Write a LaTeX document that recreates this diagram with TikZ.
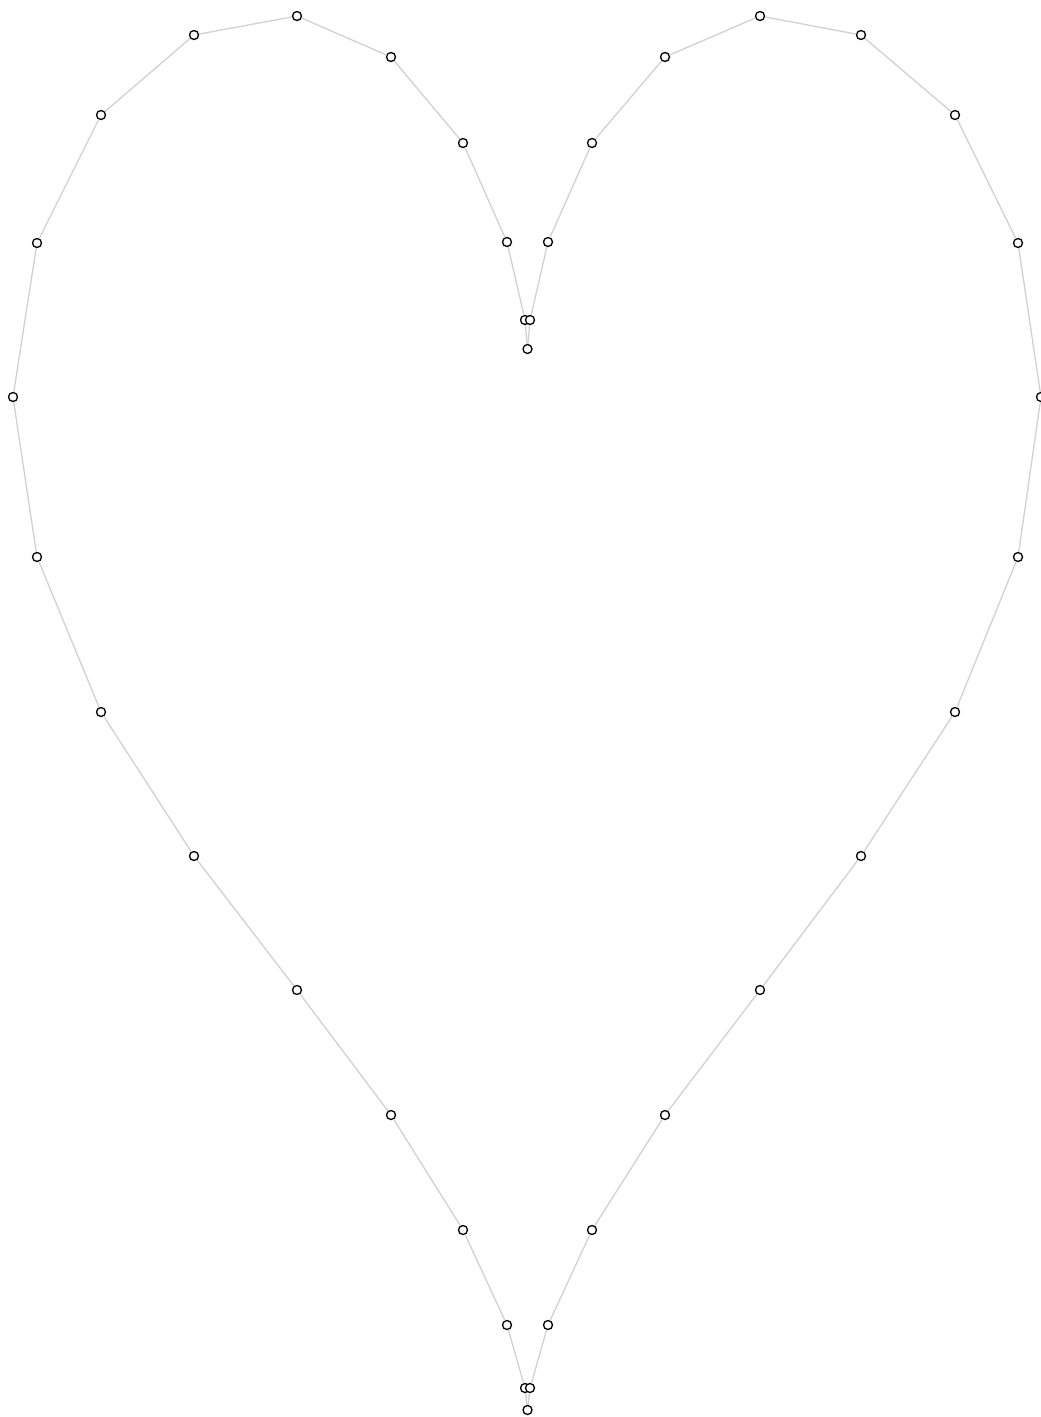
\documentclass[tikz,border=0pt]{standalone}
\begin{document}
\begin{tikzpicture}[x=1pt,y=-1pt,
  vtx/.style={circle,draw=black,fill=white,line width=1.3pt,inner sep=0pt,minimum size=9pt},
  lnk/.style={draw=black!18,line width=1.3pt}]
\useasboundingbox (0,0) rectangle (1041,1417);
\foreach \i/\x/\y in {0/525/320,1/507/242,2/463/143,3/391/57,4/297/16,5/194/35,6/101/115,7/37/243,8/13/397,9/37/557,10/101/712,11/194/856,12/297/990,13/391/1115,14/463/1230,15/507/1325,16/525/1388}
  \node[vtx] (L\i) at (\x,\y) {};
\foreach \i/\x/\y in {0/530/320,1/548/242,2/592/143,3/665/57,4/760/16,5/861/35,6/955/115,7/1018/243,8/1041/397,9/1018/557,10/955/712,11/861/856,12/760/990,13/665/1115,14/592/1230,15/548/1325,16/530/1388}
  \node[vtx] (R\i) at (\x,\y) {};
\node[vtx] (T) at (527.5,349) {};
\node[vtx] (B) at (527.5,1410) {};
\foreach \i [evaluate=\i as \j using int(\i+1)] in {0,...,15} {
  \draw[lnk] (L\i) -- (L\j);
  \draw[lnk] (R\i) -- (R\j);
}
\draw[lnk] (T) -- (L0);
\draw[lnk] (T) -- (R0);
\draw[lnk] (B) -- (L16);
\draw[lnk] (B) -- (R16);
\end{tikzpicture}
\end{document}
